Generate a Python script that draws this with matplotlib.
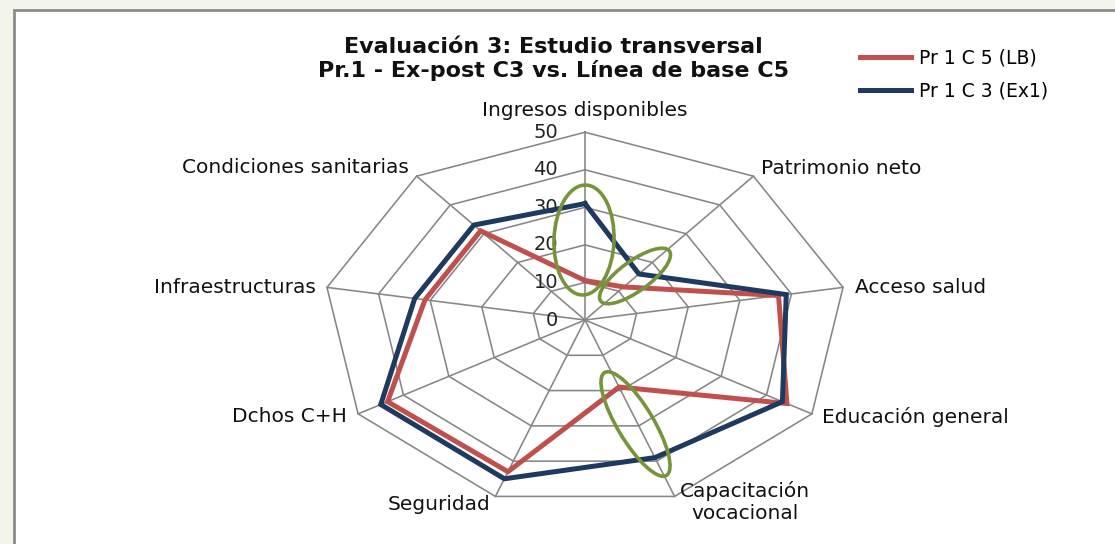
import numpy as np
import matplotlib
matplotlib.use("Agg")
import matplotlib.pyplot as plt
from matplotlib.patches import Ellipse, Rectangle

# ---------------- data ----------------
categories = ["Ingresos disponibles", "Patrimonio neto", "Acceso salud",
              "Educación general", "Capacitación\nvocacional", "Seguridad",
              "Dchos C+H", "Infraestructuras", "Condiciones sanitarias"]
series_lb = [10.5, 11.5, 37.5, 44.5, 19, 43, 43.5, 31, 31]     # Pr 1 C 5 (LB)
series_ex1 = [31, 16, 39, 43.5, 39, 45, 45, 33, 33]            # Pr 1 C 3 (Ex1)
series_names = ["Pr 1 C 5 (LB)", "Pr 1 C 3 (Ex1)"]
ticks = [0, 10, 20, 30, 40, 50]
title = "Evaluación 3: Estudio transversal\nPr.1 - Ex-post C3 vs. Línea de base C5"

# ---------------- style ----------------
plt.rcParams["font.family"] = ["DejaVu Sans"]
RED = "#C0504D"
BLUE = "#1F3A60"
GREEN = "#77933C"
GRID = "#868686"

W, H = 1115, 544
fig = plt.figure(figsize=(W / 100, H / 100), dpi=100)
fig.patch.set_facecolor("#F3F5EB")

# white chart frame
fig.add_artist(Rectangle((14 / W, -0.1), 1.2, 1 - 9.5 / H + 0.1,
                         transform=fig.transFigure, facecolor="white",
                         edgecolor="#8C8C8C", linewidth=2.0, zorder=0))

# main radar axes (cartesian, stretched like the reference)
cx, cy = 585, 320
sx, sy = 5.24, 3.755   # px per unit
xr, yr = 60, 55
ax = fig.add_axes([(cx - xr * sx) / W, (H - cy - yr * sy) / H,
                   2 * xr * sx / W, 2 * yr * sy / H])
ax.set_xlim(-xr, xr)
ax.set_ylim(-yr, yr)
ax.axis("off")
ax.patch.set_alpha(0)

n = len(categories)
theta = np.arange(n) * 2 * np.pi / n
ux, uy = np.sin(theta), np.cos(theta)

# grid polygons
for r in ticks[1:]:
    ax.plot(np.append(r * ux, r * ux[0]), np.append(r * uy, r * uy[0]),
            color=GRID, lw=1.15, zorder=1)
rmax = ticks[-1]
for i in range(n):
    ax.plot([0, rmax * ux[i]], [0, rmax * uy[i]], color=GRID, lw=1.15, zorder=1)

# tick labels
for r in ticks:
    ax.annotate(str(r), (0, r), xytext=(-27, 0), textcoords="offset pixels",
                ha="right", va="center", fontsize=14, color="#222222", zorder=2)

# series
handles = []
for vals, col, name in [(series_lb, RED, series_names[0]),
                        (series_ex1, BLUE, series_names[1])]:
    v = np.array(vals)
    h, = ax.plot(np.append(v * ux, v[0] * ux[0]), np.append(v * uy, v[0] * uy[0]),
                 color=col, lw=3.6, solid_joinstyle="miter", zorder=3, label=name)
    handles.append(h)

# category labels
label_fmt = [
    ((0, 12), "center", "bottom"),
    ((8, 8), "left", "center"),
    ((12, 0), "left", "center"),
    ((10, -3), "left", "center"),
    ((5, 15), "left", "top"),
    ((-5, -8), "right", "center"),
    ((-11, -3), "right", "center"),
    ((-11, 0), "right", "center"),
    ((-8, 9), "right", "center"),
]
for i, cat in enumerate(categories):
    off, ha, va = label_fmt[i]
    ax.annotate(cat, (rmax * ux[i], rmax * uy[i]), xytext=off,
                textcoords="offset pixels", ha=ha, va=va, ma="center",
                fontsize=14.5, color="#111111", linespacing=1.2)

# title
fig.text(553 / W, 1 - 59 / H, title, ha="center", va="center",
         fontsize=16, fontweight="bold", color="#111111", linespacing=1.22)

# legend
fig.legend(handles=handles, loc="upper left",
           bbox_to_anchor=(860 / W, 1 - 49 / H), frameon=False,
           fontsize=13.5, handlelength=2.7, handletextpad=0.45,
           labelspacing=0.7, borderpad=0, borderaxespad=0)

# green annotation ellipses (pixel overlay)
ov = fig.add_axes([0, 0, 1, 1])
ov.set_xlim(0, W)
ov.set_ylim(H, 0)
ov.axis("off")
ov.patch.set_alpha(0)
for (ex, ey), w, h, ang in [((584, 240), 110, 60, -88),
                             ((635, 276), 85, 30, -36),
                             ((635.5, 424), 120, 36, 59)]:
    ov.add_patch(Ellipse((ex, ey), w, h, angle=ang, fill=False,
                         edgecolor=GREEN, lw=2.6, zorder=5))

fig.savefig("out.png", dpi=100, facecolor=fig.get_facecolor())
